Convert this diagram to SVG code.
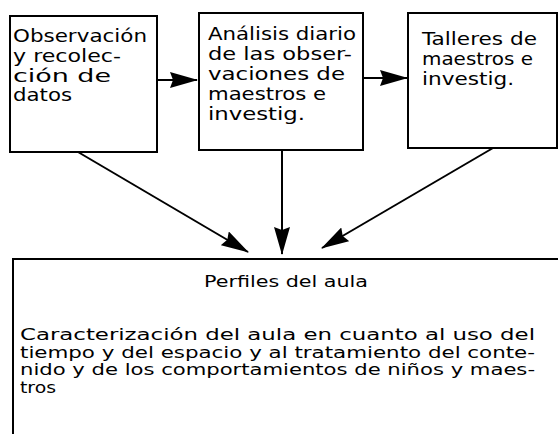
<svg xmlns="http://www.w3.org/2000/svg" width="558" height="434" viewBox="0 0 558 434">
<style>
.box{fill:#fff;stroke:#000;stroke-width:2}
.t{font-family:"DejaVu Sans","Liberation Sans",sans-serif;font-size:17.5px;fill:#000}
.b{font-family:"DejaVu Sans","Liberation Sans",sans-serif;font-size:16px;fill:#000}
.c{fill:none;stroke:#000;stroke-width:2}
</style>
<defs>
<marker id="ah" viewBox="0 0 28 16" refX="27" refY="8" markerWidth="28" markerHeight="16" markerUnits="userSpaceOnUse" orient="auto">
<path d="M0,0 L28,8 L0,16 L3,8 z" fill="#000"/>
</marker>
</defs>
<rect width="558" height="434" fill="#fff"/>
<g id="connectors">
<line class="c" x1="157" y1="80" x2="197" y2="80" marker-end="url(#ah)"/>
<line class="c" x1="363" y1="78" x2="407" y2="78" marker-end="url(#ah)"/>
<line class="c" x1="78" y1="152" x2="248" y2="252" marker-end="url(#ah)"/>
<line class="c" x1="282" y1="150" x2="282" y2="254" marker-end="url(#ah)"/>
<line class="c" x1="493" y1="148" x2="322" y2="248" marker-end="url(#ah)"/>
</g>
<g id="n1">
<rect class="box" x="10" y="16" width="147" height="136"/>
<text class="t" x="13" y="41.5" textLength="134" lengthAdjust="spacingAndGlyphs">Observación</text>
<text class="t" x="13" y="61.5" textLength="108" lengthAdjust="spacingAndGlyphs">y recolec-</text>
<text class="t" x="13" y="81.5" textLength="98" lengthAdjust="spacingAndGlyphs">ción de</text>
<text class="t" x="13" y="101" textLength="59" lengthAdjust="spacingAndGlyphs">datos</text>
</g>
<g id="n2">
<rect class="box" x="199" y="13" width="164" height="137"/>
<text class="t" x="208" y="40" textLength="148" lengthAdjust="spacingAndGlyphs">Análisis diario</text>
<text class="t" x="208" y="60" textLength="144" lengthAdjust="spacingAndGlyphs">de las obser-</text>
<text class="t" x="208" y="80" textLength="137" lengthAdjust="spacingAndGlyphs">vaciones de</text>
<text class="t" x="208" y="100" textLength="118" lengthAdjust="spacingAndGlyphs">maestros e</text>
<text class="t" x="208" y="120" textLength="97" lengthAdjust="spacingAndGlyphs">investig.</text>
</g>
<g id="n3">
<rect class="box" x="408" y="13" width="149" height="135"/>
<text class="t" x="422" y="45" textLength="115" lengthAdjust="spacingAndGlyphs">Talleres de</text>
<text class="t" x="422" y="65" textLength="111" lengthAdjust="spacingAndGlyphs">maestros e</text>
<text class="t" x="422" y="85" textLength="92" lengthAdjust="spacingAndGlyphs">investig.</text>
</g>
<g id="n4">
<rect class="box" x="13" y="259" width="560" height="200"/>
<text class="b" x="204" y="287" textLength="164" lengthAdjust="spacingAndGlyphs">Perfiles del aula</text>
<text class="b" x="20" y="340" textLength="515" lengthAdjust="spacingAndGlyphs">Caracterización del aula en cuanto al uso del</text>
<text class="b" x="20" y="357.5" textLength="515" lengthAdjust="spacingAndGlyphs">tiempo y del espacio y al tratamiento del conte-</text>
<text class="b" x="20" y="375" textLength="515" lengthAdjust="spacingAndGlyphs">nido y de los comportamientos de niños y maes-</text>
<text class="b" x="20" y="392.5" textLength="36" lengthAdjust="spacingAndGlyphs">tros</text>
</g>
</svg>
